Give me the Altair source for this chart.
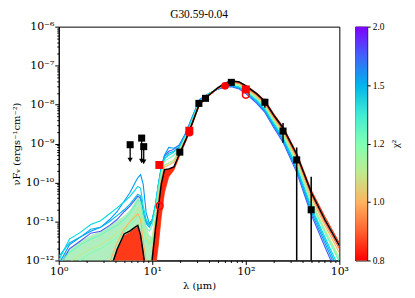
import altair as alt
import pandas as pd

# ---------------- data ----------------
lam = [1.0, 1.3, 1.7, 2.2, 2.8, 3.5, 4.2, 5.0, 5.8, 6.5, 7.0, 7.5, 8.0, 8.6, 9.3, 10.0,
       10.8, 11.6, 12.5, 13.5, 15, 17, 19.5, 23, 27, 32, 40, 50, 60, 70, 85, 100, 130,
       160, 200, 250, 350, 500, 700, 1000]

# log10(nu F_nu) of model SEDs, with their chi^2
model_chi2 = [1.8, 1.6, 1.5, 1.4, 1.25, 1.2, 1.1, 1.0, 0.9, 0.83]
model_logF = [
    [-12.2, -11.7, -11.5, -11.3, -11.25, -11.1, -10.95, -10.75, -10.6, -10.45, -10.35, -10.4, -10.8, -11.0, -11.1, -10.95,
     -10.6, -10.05, -9.6, -9.32, -9.2, -9.15, -9.03, -8.71, -8.29, -7.87, -7.72, -7.61, -7.55, -7.54, -7.60, -7.72, -7.96,
     -8.20, -8.60, -8.97, -9.74, -10.82, -11.65, -12.5],
    [-12.1, -11.6, -11.4, -11.25, -11.15, -10.95, -10.75, -10.48, -10.25, -10.02, -9.88, -9.8, -10.05, -10.78, -11.05, -10.95,
     -10.6, -10.1, -9.6, -9.3, -9.1, -9.12, -9.05, -8.72, -8.30, -7.88, -7.72, -7.60, -7.53, -7.52, -7.58, -7.70, -7.93,
     -8.17, -8.56, -8.92, -9.68, -10.75, -11.55, -12.4],
    [-11.9, -11.55, -11.4, -11.2, -11.15, -11.0, -10.85, -10.7, -10.55, -10.4, -10.3, -10.35, -10.75, -11.05, -11.15, -11.0,
     -10.65, -10.1, -9.65, -9.4, -9.25, -9.2, -9.08, -8.74, -8.32, -7.90, -7.73, -7.60, -7.52, -7.50, -7.56, -7.68, -7.90,
     -8.14, -8.52, -8.88, -9.63, -10.68, -11.47, -12.3],
    [-12.0, -11.45, -11.28, -11.08, -10.98, -10.8, -10.65, -10.5, -10.35, -10.2, -10.1, -10.15, -10.6, -10.95, -11.1, -10.95,
     -10.55, -10.05, -9.62, -9.38, -9.3, -9.22, -9.10, -8.76, -8.34, -7.91, -7.73, -7.59, -7.51, -7.49, -7.55, -7.66, -7.88,
     -8.11, -8.49, -8.84, -9.58, -10.62, -11.40, -12.2],
    [-12.1, -11.8, -11.6, -11.45, -11.35, -11.2, -11.1, -10.95, -10.78, -10.6, -10.45, -10.5, -10.85, -11.15, -11.25, -11.1,
     -10.7, -10.15, -9.72, -9.45, -9.38, -9.3, -9.14, -8.80, -8.38, -7.93, -7.74, -7.58, -7.49, -7.46, -7.51, -7.62, -7.84,
     -8.06, -8.44, -8.78, -9.50, -10.52, -11.28, -12.03],
    [-12.6, -12.2, -12.0, -11.8, -11.7, -11.55, -11.4, -11.25, -11.1, -10.95, -10.85, -10.9, -11.2, -11.5, -11.6, -11.5,
     -11.0, -10.4, -9.9, -9.55, -9.5, -9.44, -9.19, -8.83, -8.42, -7.95, -7.75, -7.58, -7.48, -7.45, -7.50, -7.61, -7.82,
     -8.04, -8.42, -8.76, -9.47, -10.49, -11.24, -11.98],
    [-12.4, -12.05, -11.85, -11.7, -11.6, -11.45, -11.3, -11.15, -11.0, -10.82, -10.68, -10.72, -11.1, -11.4, -11.55, -11.4,
     -10.9, -10.3, -9.85, -9.55, -9.5, -9.42, -9.18, -8.82, -8.41, -7.95, -7.75, -7.58, -7.48, -7.44, -7.49, -7.60, -7.81,
     -8.03, -8.40, -8.74, -9.45, -10.46, -11.20, -11.93],
    [-13.5, -13.2, -13.0, -12.8, -12.5, -12.05, -11.55, -11.2, -11.0, -10.88, -10.8, -10.95, -11.5, -12.0, -12.3, -11.8,
     -11.0, -10.4, -9.9, -9.6, -9.55, -9.48, -9.22, -8.85, -8.43, -7.96, -7.76, -7.58, -7.47, -7.42, -7.46, -7.57, -7.78,
     -7.99, -8.36, -8.69, -9.38, -10.38, -11.10, -11.80],
    [-14, -14, -14, -14, -14, -12.8, -12.2, -11.8, -11.6, -11.5, -11.45, -11.75, -12.4, -13.0, -13.6, -12.9,
     -12.2, -11.6, -10.85, -10.25, -9.85, -9.68, -9.33, -8.92, -8.48, -8.00, -7.78, -7.59, -7.47, -7.42, -7.45, -7.55, -7.75,
     -7.96, -8.32, -8.65, -9.33, -10.31, -11.02, -11.70],
    [-14, -14, -14, -14, -14, -12.6, -12.0, -11.6, -11.45, -11.35, -11.3, -11.6, -12.2, -12.9, -13.5, -12.6,
     -11.8, -11.1, -10.45, -9.95, -9.72, -9.64, -9.30, -8.90, -8.47, -7.99, -7.77, -7.58, -7.46, -7.40, -7.42, -7.51, -7.70,
     -7.90, -8.25, -8.57, -9.24, -10.20, -10.88, -11.55],
]

best_logF = [-13.5, -13.5, -13.5, -13.5, -13.5, -12.3, -11.72, -11.32, -11.24, -11.15, -11.10, -11.35, -11.8, -12.4, -13.0, -11.95,
             -11.2, -10.63, -10.03, -9.67, -9.65, -9.6, -9.27, -8.88, -8.45, -7.97, -7.76, -7.57, -7.45, -7.39, -7.42, -7.52, -7.72,
             -7.92, -8.28, -8.60, -9.28, -10.25, -10.95, -11.62]

# dense envelope of the many intermediate-chi2 models at short wavelengths
mass_lam = [1.0, 1.3, 1.7, 2.2, 2.8, 3.5, 4.2, 5.0, 5.8, 6.5, 7.0, 7.5, 8.0, 8.6, 9.3, 10.0, 10.8]
mass_top = [-12.0, -11.7, -11.5, -11.35, -11.25, -11.1, -10.98, -10.85, -10.7, -10.5, -10.38, -10.35, -10.65, -11.1, -11.35, -11.4, -11.2]

# dense envelope of the lowest-chi2 models
red_lam = [3.8, 4.2, 5.0, 5.8, 6.5, 7.0, 7.5, 8.0, 8.4]
red_top = [-12.0, -11.75, -11.36, -11.27, -11.18, -11.13, -11.38, -11.82, -12.0]
rise_lam = [10.0, 10.8, 11.6, 12.5, 13.5, 15, 17, 19.5]
rise_top = [-11.95, -11.2, -10.63, -10.03, -9.67, -9.65, -9.6, -9.27]
rise_bot = [-13.0, -12.2, -11.6, -10.85, -10.25, -9.85, -9.68, -9.33]

# photometry
det_lam = [19.7, 31.5, 37.1, 70, 160, 250, 350, 500]
det_logF = [-9.22, -7.97, -7.84, -7.43, -7.94, -8.68, -9.42, -10.70]
err_lam = [160, 250, 350, 500]
err_hi = [-7.85, -8.47, -9.10, -9.85]
err_lo = [-8.08, -8.98, -12.5, -12.5]

ulim_lam = [5.8, 7.7, 8.1]
ulim_logF = [-9.03, -8.86, -9.08]
ulim_tip = [-9.42, -9.45, -9.47]

red_sq_lam = [11.9, 24.9, 100]
red_sq_logF = [-9.55, -8.67, -7.61]
red_dot_lam = [24.9, 60]
red_dot_logF = [-8.72, -7.52]
red_ring_lam = [12, 100]
red_ring_logF = [-10.60, -7.75]

x_ticks = [m * 10 ** e for e in range(0, 3) for m in range(1, 10)] + [1000]
x_major = [1, 10, 100, 1000]
x_major_labels = ["10⁰", "10¹", "10²", "10³"]
y_ticks = [m * 10.0 ** e for e in range(-12, -6) for m in range(1, 10)] + [1e-6]
y_major = [1e-12, 1e-11, 1e-10, 1e-9, 1e-8, 1e-7, 1e-6]
y_major_labels = ["10⁻¹²", "10⁻¹¹", "10⁻¹⁰", "10⁻⁹", "10⁻⁸", "10⁻⁷", "10⁻⁶"]

cbar_pos = [0, 1, 2, 3, 4]
cbar_labels = ["0.8", "1.0", "1.2", "1.5", "2.0"]

# ---------------- helpers ----------------
def lbl_expr(vals, labels):
    parts = [f"datum.value == {v!r} ? '{l}'" for v, l in zip(vals, labels)]
    return " : ".join(parts) + " : ''"

def major_test(vals):
    return " || ".join(f"datum.value == {v!r}" for v in vals)

chi_scale = alt.Scale(domain=[0.8, 0.9, 1.0, 1.1, 1.2, 1.35, 1.5, 1.75, 2.0],
                      range=["#ff0000", "#ff6231", "#ffb462", "#bfeb8e", "#80ffb4",
                             "#40ebd4", "#00b4eb", "#4062fa", "#8000ff"])

FONT = "DejaVu Serif"
xscale = alt.Scale(type="log", domain=[1, 1000], nice=False)
yscale = alt.Scale(type="log", domain=[1e-12, 1e-6], nice=False)

xaxis = alt.Axis(values=x_ticks, labelExpr=lbl_expr(x_major, x_major_labels), title="λ (μm)",
                 grid=False, labelFont=FONT, labelFontSize=11, titleFont=FONT, titleFontSize=10,
                 titleFontWeight="normal", labelColor="black", titleColor="black",
                 tickColor="black", domainColor="black", labelPadding=1, titlePadding=4,
                 tickSize={"condition": {"test": major_test(x_major), "value": 4}, "value": 2},
                 labelFlush=False, labelOverlap=False)
yaxis = alt.Axis(values=y_ticks, labelExpr=lbl_expr(y_major, y_major_labels),
                 title="νFᵥ (ergs⁻¹cm⁻²)", grid=False, labelFont=FONT, labelFontSize=11,
                 titleFont=FONT, titleFontSize=10, titleFontWeight="normal", labelColor="black",
                 titleColor="black", tickColor="black", domainColor="black", labelPadding=1,
                 titlePadding=4,
                 tickSize={"condition": {"test": major_test(y_major), "value": 4}, "value": 2},
                 labelFlush=False, labelOverlap=False)

X = alt.X("lam:Q", scale=xscale, axis=xaxis)
Y = alt.Y("F:Q", scale=yscale, axis=yaxis)

layers = []

mass_df = pd.DataFrame({"lam": mass_lam, "F": [10 ** v for v in mass_top], "F0": [1e-13] * len(mass_lam)})
layers.append(alt.Chart(mass_df).mark_area(color="#a8ecb8", opacity=0.9, clip=True).encode(
    x=X, y=Y, y2="F0:Q"))

for chi, vals in zip(model_chi2, model_logF):
    df = pd.DataFrame({"lam": lam, "F": [10 ** v for v in vals], "chi": [chi] * len(lam)})
    layers.append(alt.Chart(df).mark_line(strokeWidth=1.1, clip=True).encode(
        x=X, y=Y, color=alt.Color("chi:Q", scale=chi_scale, legend=None)))

red_df = pd.DataFrame({"lam": red_lam, "F": [10 ** v for v in red_top], "F0": [1e-13] * len(red_lam)})
layers.append(alt.Chart(red_df).mark_area(color="#ff3a18", clip=True).encode(x=X, y=Y, y2="F0:Q"))
rise_df = pd.DataFrame({"lam": rise_lam, "F": [10 ** v for v in rise_top], "Fb": [10 ** v for v in rise_bot]})
layers.append(alt.Chart(rise_df).mark_area(color="#ff2a10", clip=True).encode(x=X, y=Y, y2="Fb:Q"))

best_df = pd.DataFrame({"lam": lam, "F": [10 ** v for v in best_logF]})
layers.append(alt.Chart(best_df).mark_line(color="black", strokeWidth=1.5, clip=True).encode(x=X, y=Y))

err_df = pd.DataFrame({"lam": err_lam, "F": [10 ** v for v in err_hi], "F2": [10 ** v for v in err_lo]})
layers.append(alt.Chart(err_df).mark_rule(color="black", strokeWidth=1.5, clip=True).encode(x=X, y=Y, y2="F2:Q"))

ul_df = pd.DataFrame({"lam": ulim_lam, "F": [10 ** v for v in ulim_logF], "F2": [10 ** v for v in ulim_tip]})
layers.append(alt.Chart(ul_df).mark_rule(color="black", strokeWidth=1.3).encode(x=X, y=Y, y2="F2:Q"))
tip_df = pd.DataFrame({"lam": ulim_lam, "F": [10 ** v for v in ulim_tip]})
layers.append(alt.Chart(tip_df).mark_point(shape="triangle-down", filled=True, color="black", size=28, opacity=1).encode(x=X, y=Y))
ulsq_df = pd.DataFrame({"lam": ulim_lam, "F": [10 ** v for v in ulim_logF]})
layers.append(alt.Chart(ulsq_df).mark_square(color="black", size=50, opacity=1).encode(x=X, y=Y))

det_df = pd.DataFrame({"lam": det_lam, "F": [10 ** v for v in det_logF]})
layers.append(alt.Chart(det_df).mark_square(color="black", size=50, opacity=1).encode(x=X, y=Y))

rsq_df = pd.DataFrame({"lam": red_sq_lam, "F": [10 ** v for v in red_sq_logF]})
layers.append(alt.Chart(rsq_df).mark_square(color="#ff0000", size=64, opacity=1).encode(x=X, y=Y))
rdot_df = pd.DataFrame({"lam": red_dot_lam, "F": [10 ** v for v in red_dot_logF]})
layers.append(alt.Chart(rdot_df).mark_circle(color="#ff0000", size=60, opacity=1).encode(x=X, y=Y))
rring_df = pd.DataFrame({"lam": red_ring_lam, "F": [10 ** v for v in red_ring_logF]})
layers.append(alt.Chart(rring_df).mark_point(shape="circle", color="#ff0000", size=45, strokeWidth=1.5, opacity=1).encode(x=X, y=Y))

main = alt.layer(*layers).properties(
    width=282, height=235,
    title=alt.TitleParams("G30.59-0.04", font="Liberation Serif", fontSize=11.5, fontWeight="normal",
                          anchor="middle", offset=0, color="black"))

grad = alt.LinearGradient(gradient="linear", x1=0, y1=1, x2=0, y2=0, stops=[
    alt.GradientStop(color="#ff0000", offset=0.0),
    alt.GradientStop(color="#ff6231", offset=0.125),
    alt.GradientStop(color="#ffb462", offset=0.25),
    alt.GradientStop(color="#bfeb8e", offset=0.375),
    alt.GradientStop(color="#80ffb4", offset=0.5),
    alt.GradientStop(color="#40ebd4", offset=0.625),
    alt.GradientStop(color="#00b4eb", offset=0.75),
    alt.GradientStop(color="#4062fa", offset=0.875),
    alt.GradientStop(color="#8000ff", offset=1.0),
])
cb_df = pd.DataFrame({"x0": [0], "x1": [1], "y0": [cbar_pos[0]], "y1": [cbar_pos[-1]]})
cbar = alt.Chart(cb_df).mark_rect(color=grad).encode(
    x=alt.X("x0:Q", scale=alt.Scale(domain=[0, 1], nice=False), axis=None),
    x2="x1:Q",
    y=alt.Y("y0:Q", scale=alt.Scale(domain=[cbar_pos[0], cbar_pos[-1]], nice=False),
            axis=alt.Axis(orient="right", values=cbar_pos, labelExpr=lbl_expr(cbar_pos, cbar_labels),
                          title="χ²", titleAngle=270, titleBaseline="top", titleFont="Liberation Serif",
                          titleFontSize=11, titleFontWeight="normal", labelFont="Liberation Serif",
                          labelFontSize=9.5, grid=False, tickSize=3, labelPadding=2, titlePadding=6,
                          domain=False, tickColor="black", labelColor="black", titleColor="black")),
    y2="y1:Q",
).properties(width=12, height=235)

chart = alt.hconcat(main, cbar, spacing=5).properties(
    padding={"left": 2, "top": 0, "right": 5, "bottom": 5}
).configure_view(stroke="black", strokeWidth=1).configure_axis(domainWidth=1, tickWidth=1)

chart.save("out.html", embed_options={"renderer": "svg", "actions": False})
